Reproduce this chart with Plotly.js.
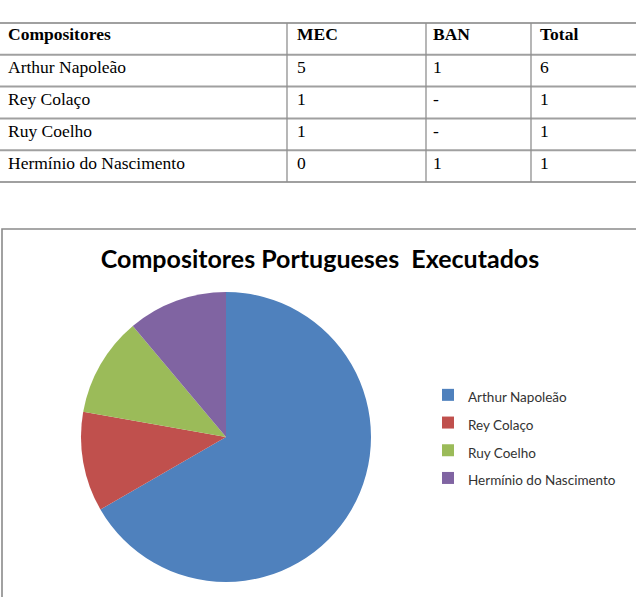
<!DOCTYPE html>
<html>
<head>
<meta charset="utf-8">
<script src="https://cdn.plot.ly/plotly-3.0.1.min.js"></script>
<style>html,body{margin:0;padding:0;background:#fff;}</style>
</head>
<body>
<div id="chart" style="width:636px;height:597px;"></div>
<script>
// ---- data ----
const headers = ['Compositores', 'MEC', 'BAN', 'Total'];
const compositores = ['Arthur Napoleão', 'Rey Colaço', 'Ruy Coelho', 'Hermínio do Nascimento'];
const mec = ['5', '1', '1', '0'];
const ban = ['1', '-', '-', '1'];
const total = [6, 1, 1, 1];
const chartTitle = 'Compositores Portugueses\u00a0 Executados';
const sliceColors = ['#4F81BD', '#C0504D', '#9BBB59', '#8064A2'];

const W = 636, H = 597;

// table geometry (pixels)
const rowTop = 23, rowH = 31.8, textShift = 7;
const colWidths = [289, 136, 107, 104];
const dividers = [287, 426, 531];
const nRows = compositores.length + 1;

const tableTrace = {
  type: 'table',
  domain: {x: [0, 1], y: [1 - (rowTop - textShift + rowH * nRows + 4) / H, 1 - (rowTop - textShift) / H]},
  columnwidth: colWidths,
  header: {
    values: headers.map(h => '<b>' + h + '</b>'),
    align: 'left',
    height: rowH,
    fill: {color: '#ffffff'},
    line: {color: '#ffffff', width: 0},
    font: {family: 'Liberation Serif', size: 17.5, color: '#000'}
  },
  cells: {
    values: [compositores, mec, ban, total],
    align: 'left',
    height: rowH,
    fill: {color: '#ffffff'},
    line: {color: '#ffffff', width: 0},
    font: {family: 'Liberation Serif', size: 17.5, color: '#000'}
  }
};

const cx = 226, cy = 437, r = 145;
const pieTrace = {
  type: 'pie',
  labels: compositores.map(l => '<span style="font-size:13.5px">' + l + '</span>'),
  values: total,
  sort: false,
  direction: 'clockwise',
  rotation: 0,
  textinfo: 'none',
  hoverinfo: 'skip',
  marker: {colors: sliceColors, line: {width: 0}},
  domain: {x: [(cx - r) / W, (cx + r) / W], y: [(H - cy - r) / H, (H - cy + r) / H]}
};

const shapes = [];
for (let i = 0; i <= nRows; i++) {
  const y = 1 - (rowTop + rowH * i) / H;
  shapes.push({type: 'line', xref: 'paper', yref: 'paper', x0: 0, x1: 1, y0: y, y1: y,
    line: {color: '#a0a0a0', width: 2}});
}
dividers.forEach(x => {
  shapes.push({type: 'line', xref: 'paper', yref: 'paper', x0: x / W, x1: x / W,
    y0: 1 - rowTop / H, y1: 1 - (rowTop + rowH * nRows) / H,
    line: {color: '#909090', width: 1.3}});
});
shapes.push({
  type: 'rect', xref: 'paper', yref: 'paper',
  x0: 2 / W, x1: 1.02, y0: -0.02, y1: 1 - 229 / H,
  line: {color: '#8a8a8a', width: 1.6}
});

const layout = {
  width: W, height: H,
  margin: {l: 0, r: 0, t: 0, b: 0},
  paper_bgcolor: '#ffffff',
  plot_bgcolor: '#ffffff',
  showlegend: true,
  title: {
    text: chartTitle,
    x: 320 / W, xanchor: 'center',
    y: 1 - 259 / H, yanchor: 'middle', yref: 'container',
    font: {family: 'Lato', size: 25, color: '#000', weight: 'bold'}
  },
  legend: {
    x: 428 / W, xanchor: 'left',
    y: 1 - 376 / H, yanchor: 'top',
    font: {family: 'Lato', size: 19, color: '#333'},
    bgcolor: 'rgba(0,0,0,0)'
  },
  shapes: shapes
};

Plotly.newPlot('chart', [tableTrace, pieTrace], layout, {displayModeBar: false, staticPlot: true});
</script>
</body>
</html>
